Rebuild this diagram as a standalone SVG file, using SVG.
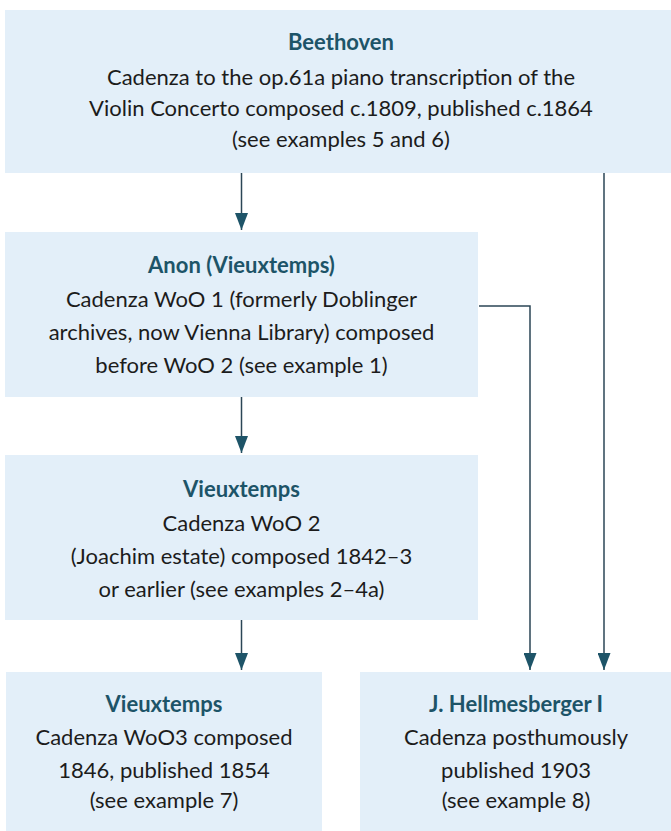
<svg xmlns="http://www.w3.org/2000/svg" width="671" height="831" viewBox="0 0 671 831">
<style>
.box{fill:#e3eff9}
.t{font-family:Lato,"Liberation Sans",sans-serif;font-size:22px;text-anchor:middle}
.h{font-weight:bold;fill:#1d5468}
.b{fill:#1c1c1c}
.c{fill:none;stroke:#2b4656;stroke-width:1.5}
</style>
<defs>
<marker id="ah" markerUnits="userSpaceOnUse" markerWidth="17" markerHeight="13" refX="17" refY="6.5" orient="auto">
<path d="M0,0 L17,6.5 L0,13 z" fill="#1e5468"/>
</marker>
</defs>
<rect width="671" height="831" fill="#ffffff"/>
<g id="beethoven">
<rect class="box" x="5" y="10" width="666" height="163"/>
<text class="t h" x="341" y="50">Beethoven</text>
<text class="t b" x="341" y="85">Cadenza to the op.61a piano transcription of the</text>
<text class="t b" x="341" y="116">Violin Concerto composed c.1809, published c.1864</text>
<text class="t b" x="341" y="147">(see examples 5 and 6)</text>
</g>
<g id="anon">
<rect class="box" x="5" y="232" width="473" height="165"/>
<text class="t h" x="241.5" y="273">Anon (Vieuxtemps)</text>
<text class="t b" x="241.5" y="307">Cadenza WoO 1 (formerly Doblinger</text>
<text class="t b" x="241.5" y="340">archives, now Vienna Library) composed</text>
<text class="t b" x="241.5" y="373">before WoO 2 (see example 1)</text>
</g>
<g id="vieux2">
<rect class="box" x="5" y="455" width="473" height="165"/>
<text class="t h" x="241.5" y="497">Vieuxtemps</text>
<text class="t b" x="241.5" y="531">Cadenza WoO 2</text>
<text class="t b" x="241.5" y="564">(Joachim estate) composed 1842–3</text>
<text class="t b" x="241.5" y="597">or earlier (see examples 2–4a)</text>
</g>
<g id="vieux3">
<rect class="box" x="6" y="672" width="316" height="159"/>
<text class="t h" x="164" y="712">Vieuxtemps</text>
<text class="t b" x="164" y="745">Cadenza WoO3 composed</text>
<text class="t b" x="164" y="778">1846, published 1854</text>
<text class="t b" x="164" y="808">(see example 7)</text>
</g>
<g id="hellmesberger">
<rect class="box" x="360" y="672" width="311" height="159"/>
<text class="t h" x="516" y="712">J. Hellmesberger I</text>
<text class="t b" x="516" y="745">Cadenza posthumously</text>
<text class="t b" x="516" y="778">published 1903</text>
<text class="t b" x="516" y="808">(see example 8)</text>
</g>
<g id="connectors">
<path class="c" d="M241.5,173 V230" marker-end="url(#ah)"/>
<path class="c" d="M241.5,397 V453" marker-end="url(#ah)"/>
<path class="c" d="M241.5,620 V670" marker-end="url(#ah)"/>
<path class="c" d="M479,306 H530 V670" marker-end="url(#ah)"/>
<path class="c" d="M604,173 V670" marker-end="url(#ah)"/>
</g>
</svg>
